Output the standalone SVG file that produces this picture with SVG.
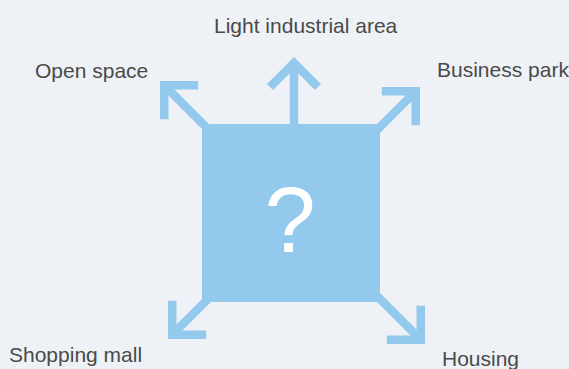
<svg xmlns="http://www.w3.org/2000/svg" width="569" height="369" viewBox="0 0 569 369">
  <style>
    .bg { fill: #eef2f6; }
    .box { fill: #93c9ec; }
    .label { font-family: "Liberation Sans", Arial, sans-serif; font-size: 21px; fill: #4a4a4a; }
    .mark { font-family: "Liberation Sans", Arial, sans-serif; font-size: 92px; fill: #ffffff; text-anchor: middle; }
    .shaft { stroke: #93c9ec; stroke-width: 8.5; fill: none; }
  </style>
  <defs>
    <!-- open chevron head, tip at the line end -->
    <marker id="chevron" markerUnits="userSpaceOnUse" viewBox="-32 -32 40 64" markerWidth="40" markerHeight="64" refX="0" refY="0" orient="auto" overflow="visible">
      <path d="M-24,-24 L0,0 L-24,24" fill="none" stroke="#93c9ec" stroke-width="8.5" stroke-linejoin="miter" stroke-miterlimit="4"/>
    </marker>
  </defs>

  <rect class="bg" x="0" y="0" width="569" height="369"/>

  <g id="connectors">
    <line class="shaft" x1="294" y1="140" x2="294" y2="63" marker-end="url(#chevron)"/>
    <line class="shaft" x1="215" y1="136" x2="164.25" y2="85.25" marker-end="url(#chevron)"/>
    <line class="shaft" x1="365" y1="142" x2="415.75" y2="91.25" marker-end="url(#chevron)"/>
    <line class="shaft" x1="217" y1="290" x2="172.25" y2="334.75" marker-end="url(#chevron)"/>
    <line class="shaft" x1="365" y1="284" x2="420.75" y2="339.75" marker-end="url(#chevron)"/>
  </g>

  <g id="centre">
    <rect class="box" x="202" y="124" width="178" height="178"/>
    <text class="mark" x="290" y="252">?</text>
  </g>

  <g id="light-industrial">
    <text class="label" x="214" y="33">Light industrial area</text>
  </g>
  <g id="open-space">
    <text class="label" x="35" y="78">Open space</text>
  </g>
  <g id="business-park">
    <text class="label" x="437" y="77">Business park</text>
  </g>
  <g id="shopping-mall">
    <text class="label" x="9" y="362">Shopping mall</text>
  </g>
  <g id="housing">
    <text class="label" x="442" y="366">Housing</text>
  </g>
</svg>
